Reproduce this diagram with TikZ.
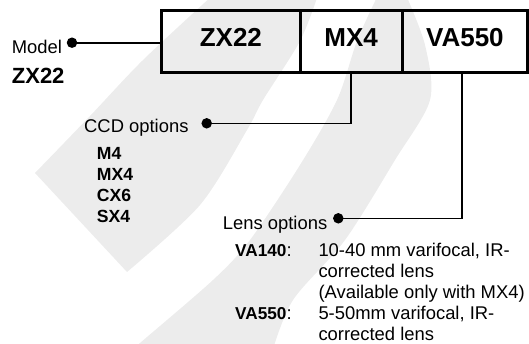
\documentclass[tikz,border=0pt]{standalone}
\usepackage{fontspec}
\setmainfont{Liberation Sans}
\definecolor{wm}{RGB}{236,236,236}
\begin{document}
\begin{tikzpicture}[x=1pt,y=-1pt,
  txt/.style={inner sep=0pt, anchor=base west, font=\fontsize{18.4}{22}\selectfont},
  boldtxt/.style={inner sep=0pt, anchor=base west, font=\fontsize{17.6}{21}\selectfont\bfseries},
  cell/.style={draw, line width=3pt, inner sep=0pt, minimum height=62.3pt,
    text height=18.6pt, text depth=7.3pt, font=\fontsize{26}{30}\selectfont\bfseries},
  conn/.style={line width=1.6pt},
  dotn/.style={circle, fill, inner sep=0pt, minimum size=10.5pt}]
\useasboundingbox (0,0) rectangle (529,343);
% watermark bands
\begin{scope}
\clip (0,0) rectangle (529,343);
\fill[wm] plot[smooth] coordinates {(35,173) (90,116) (143,60) (213,-5)}
  -- plot[smooth] coordinates {(318,-5) (300,41) (263,100) (247,130) (200,205) (127,272)} -- cycle;
\fill[wm] plot[smooth] coordinates {(130,352) (140,343) (213,280) (250,240) (300,165) (337,100) (357,41) (378,-5)}
  -- plot[smooth] coordinates {(406,-5) (425,45) (430,100) (395,160) (345,240) (293,300) (272,352)} -- cycle;
\end{scope}
% code boxes
\node[cell, minimum width=138.3pt] (c1) at (230.85,41.15) {ZX22};
\node[cell, minimum width=102.3pt] (c2) at (351.15,41.15) {MX4};
\node[cell, minimum width=125.2pt] (c3) at (464.9,41.15) {VA550};
% model
\node[txt] (model) at (11.7,53.3) {Model};
\node[inner sep=0pt, anchor=base west, font=\fontsize{22}{26}\selectfont\bfseries] (mzx) at (11.7,83.3) {ZX22};
\node[dotn] (mdot) at (72,42.7) {};
\draw[conn] (mdot.center) -- (mdot.center -| c1.west);
% CCD
\node[txt] (ccd) at (84,132.7) {CCD options};
\node[dotn] (cdot) at (206.7,123.3) {};
\draw[conn] (cdot.center) -| (c2.south);
\node[boldtxt] (o1) at (96.7,159) {M4};
\node[boldtxt] (o2) at (96.7,180.2) {MX4};
\node[boldtxt] (o3) at (96.7,201.4) {CX6};
\node[boldtxt] (o4) at (96.7,222.6) {SX4};
% Lens
\node[txt] (lens) at (222.7,229) {Lens options};
\node[dotn] (ldot) at (338.3,218.3) {};
\draw[conn] (ldot.center) -| ([xshift=-3.2pt]c3.south);
\node[txt] (va140) at (235,256) {{\fontsize{17.2}{20}\selectfont\bfseries VA140}:};
\node[txt] (d1) at (318.3,256) {10-40 mm varifocal, IR-};
\node[txt] (d2) at (318.3,277.3) {corrected lens};
\node[txt] (d3) at (318.3,298.6) {(Available only with MX4)};
\node[txt] (va550) at (235,319.9) {{\fontsize{17.2}{20}\selectfont\bfseries VA550}:};
\node[txt] (d4) at (318.3,319.9) {5-50mm varifocal, IR-};
\node[txt] (d5) at (318.3,340.8) {corrected lens};
\end{tikzpicture}
\end{document}
